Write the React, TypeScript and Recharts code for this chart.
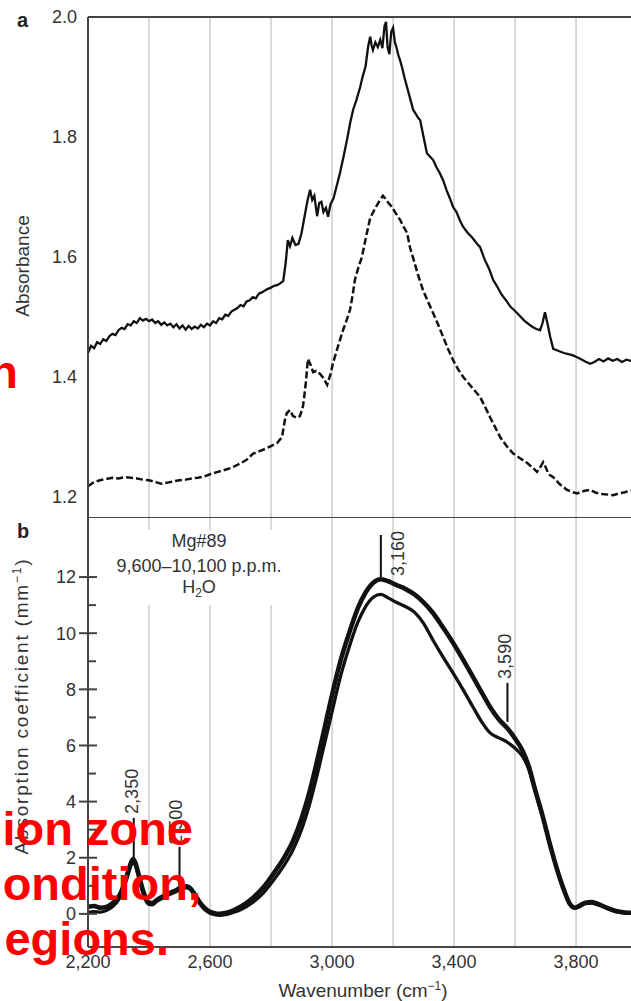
import { LineChart, Line, XAxis, YAxis, ReferenceLine } from 'recharts'

// panel a, solid spectrum
const waveSolid = [
  2200, 2210, 2220, 2230, 2240, 2250, 2260, 2270, 2280, 2290, 2300, 2310, 2320, 2330, 2340, 2350, 2360, 2370, 2380, 2390,
  2400, 2410, 2420, 2430, 2440, 2450, 2460, 2470, 2480, 2490, 2500, 2510, 2520, 2530, 2540, 2550, 2560, 2570, 2580, 2590,
  2600, 2610, 2620, 2630, 2640, 2650, 2660, 2670, 2680, 2690, 2700, 2710, 2720, 2730, 2740, 2750, 2760, 2770, 2780, 2790,
  2800, 2810, 2820, 2830, 2840, 2848, 2855, 2862, 2870, 2880, 2890, 2900, 2910, 2920, 2928, 2935, 2942, 2951, 2958, 2965,
  2972, 2980, 2987, 2995, 3005, 3015, 3026, 3038, 3050, 3060, 3069, 3080, 3092, 3100, 3110, 3118, 3125, 3130, 3134, 3142,
  3150, 3158, 3165, 3172, 3177, 3182, 3188, 3194, 3200, 3206, 3212, 3218, 3223, 3230, 3238, 3246, 3255, 3266, 3275, 3282,
  3289, 3300, 3311, 3320, 3331, 3342, 3353, 3364, 3375, 3386, 3397, 3408, 3420, 3430, 3445, 3460, 3475, 3485, 3500, 3515,
  3528, 3540, 3555, 3570, 3585, 3600, 3615, 3630, 3645, 3659, 3670, 3682, 3690, 3698, 3705, 3715, 3725, 3735, 3745, 3760,
  3775, 3790, 3803, 3815, 3830, 3846, 3860, 3875, 3890, 3905, 3920, 3935, 3950, 3965, 3980,
]
const absSolid = [
  1.44, 1.452, 1.448, 1.458, 1.455, 1.463, 1.46, 1.468, 1.472, 1.47, 1.478, 1.482, 1.48, 1.488, 1.486, 1.493, 1.49, 1.498, 1.494, 1.497,
  1.493, 1.496, 1.49, 1.493, 1.487, 1.491, 1.486, 1.489, 1.483, 1.488, 1.481, 1.486, 1.479, 1.485, 1.48, 1.484, 1.481, 1.487, 1.483, 1.489,
  1.486, 1.493, 1.49, 1.498, 1.496, 1.504, 1.502, 1.509, 1.512, 1.515, 1.52, 1.518, 1.526, 1.528, 1.533, 1.531, 1.539, 1.541, 1.544, 1.547,
  1.549, 1.552, 1.553, 1.556, 1.56, 1.59, 1.628, 1.618, 1.632, 1.62, 1.622, 1.64, 1.668, 1.695, 1.712, 1.695, 1.702, 1.668, 1.69, 1.692,
  1.675, 1.682, 1.667, 1.688, 1.698, 1.718, 1.74, 1.768, 1.798, 1.825, 1.845, 1.862, 1.883, 1.9, 1.918, 1.95, 1.967, 1.952, 1.945, 1.958,
  1.95, 1.962, 1.948, 1.985, 1.992, 1.95, 1.938, 1.975, 1.982, 1.958, 1.948, 1.935, 1.928, 1.915, 1.898, 1.883, 1.866, 1.845, 1.838, 1.832,
  1.828, 1.8, 1.773, 1.768, 1.762, 1.75, 1.74, 1.728, 1.712, 1.698, 1.683, 1.675, 1.66, 1.65, 1.64, 1.632, 1.622, 1.617, 1.596, 1.58,
  1.562, 1.552, 1.538, 1.528, 1.517, 1.51, 1.502, 1.494, 1.488, 1.483, 1.48, 1.478, 1.49, 1.508, 1.492, 1.467, 1.447, 1.445, 1.443, 1.44,
  1.438, 1.436, 1.433, 1.43, 1.426, 1.422, 1.425, 1.43, 1.426, 1.431, 1.427, 1.43, 1.425, 1.429, 1.427,
]

// panel a, dashed spectrum
const waveDashed = [
  2200, 2220, 2240, 2260, 2280, 2300, 2320, 2340, 2360, 2380, 2400, 2420, 2440, 2460, 2480, 2500, 2520, 2540, 2560, 2580,
  2600, 2620, 2640, 2660, 2680, 2700, 2720, 2740, 2760, 2780, 2800, 2820, 2836, 2846, 2852, 2862, 2872, 2885, 2895, 2905,
  2913, 2921, 2930, 2938, 2948, 2961, 2972, 2984, 2995, 3003, 3020, 3036, 3048, 3059, 3067, 3075, 3086, 3098, 3112, 3125,
  3140, 3157, 3167, 3174, 3185, 3197, 3210, 3223, 3235, 3246, 3256, 3266, 3282, 3298, 3315, 3331, 3348, 3364, 3380, 3397,
  3413, 3430, 3450, 3468, 3485, 3500, 3518, 3535, 3551, 3572, 3593, 3615, 3639, 3655, 3672, 3683, 3692, 3700, 3710, 3725,
  3745, 3770, 3790, 3803, 3825, 3846, 3865, 3885, 3905, 3921, 3940, 3960, 3980,
]
const absDashed = [
  1.218, 1.225, 1.228, 1.23, 1.232, 1.231, 1.233, 1.232, 1.231, 1.229, 1.228, 1.225, 1.222, 1.224, 1.226, 1.228, 1.229, 1.231, 1.232, 1.234,
  1.238, 1.241, 1.244, 1.247, 1.251, 1.256, 1.262, 1.272, 1.276, 1.28, 1.285, 1.29, 1.3, 1.33, 1.34, 1.345, 1.335, 1.332, 1.335, 1.352,
  1.385, 1.43, 1.42, 1.408, 1.41, 1.405, 1.398, 1.387, 1.405, 1.423, 1.452, 1.478, 1.495, 1.512, 1.535, 1.562, 1.582, 1.6, 1.635, 1.665,
  1.68, 1.695, 1.702, 1.698, 1.69, 1.683, 1.672, 1.662, 1.65, 1.64, 1.615, 1.598, 1.57, 1.545, 1.525, 1.507, 1.487, 1.467, 1.447, 1.428,
  1.413, 1.4, 1.388, 1.377, 1.367, 1.352, 1.333, 1.316, 1.3, 1.285, 1.273, 1.265, 1.257, 1.25, 1.242, 1.25, 1.258, 1.25, 1.238, 1.233,
  1.222, 1.212, 1.208, 1.206, 1.21, 1.212, 1.207, 1.205, 1.204, 1.203, 1.206, 1.208, 1.211,
]

// panel b, absorption coefficient
const waveB = [
  2200, 2220, 2240, 2260, 2280, 2300, 2315, 2330, 2340, 2348, 2356, 2365, 2380, 2397, 2410, 2426, 2445, 2469, 2490, 2508,
  2522, 2534, 2550, 2567, 2585, 2600, 2615, 2630, 2650, 2675, 2700, 2741, 2775, 2807, 2840, 2872, 2900, 2925, 2950, 2975,
  3000, 3030, 3059, 3085, 3110, 3135, 3160, 3185, 3210, 3240, 3270, 3300, 3331, 3364, 3397, 3430, 3462, 3490, 3518, 3545,
  3574, 3600, 3625, 3645, 3665, 3690, 3715, 3740, 3762, 3780, 3795, 3810, 3830, 3850, 3870, 3900, 3930, 3960, 3980,
]
const coefUpper = [
  0.25, 0.28, 0.22, 0.25, 0.38, 0.6, 0.95, 1.45, 1.8, 1.95, 1.8, 1.45, 0.85, 0.42, 0.38, 0.5, 0.62, 0.75, 0.85, 0.96,
  0.98, 0.93, 0.7, 0.4, 0.18, 0.07, 0.02, 0.0, 0.03, 0.12, 0.25, 0.58, 0.95, 1.42, 1.95, 2.6, 3.4, 4.3, 5.4, 6.6,
  7.8, 9.1, 10.1, 10.9, 11.45, 11.8, 11.92, 11.85, 11.72, 11.58, 11.38, 11.1, 10.72, 10.2, 9.65, 9.05, 8.44, 7.9, 7.37, 6.95,
  6.62, 6.25, 5.8, 5.25, 4.45, 3.5, 2.45, 1.5, 0.8, 0.35, 0.22, 0.28, 0.4, 0.42, 0.36, 0.22, 0.1, 0.05, 0.04,
]
const coefLower = [
  0.05, 0.08, 0.06, 0.12, 0.25, 0.5, 0.85, 1.35, 1.7, 1.85, 1.7, 1.35, 0.75, 0.35, 0.32, 0.45, 0.57, 0.7, 0.8, 0.9,
  0.93, 0.88, 0.65, 0.35, 0.13, 0.02, -0.03, -0.05, -0.03, 0.05, 0.15, 0.42, 0.75, 1.18, 1.68, 2.28, 3.0, 3.85, 4.9, 6.05,
  7.2, 8.55, 9.6, 10.4, 10.95, 11.28, 11.38, 11.25, 11.1, 10.95, 10.75, 10.35, 9.75, 9.15, 8.58, 7.98, 7.37, 6.85, 6.45, 6.28,
  6.12, 5.9, 5.6, 5.15, 4.4, 3.48, 2.42, 1.48, 0.78, 0.32, 0.2, 0.25, 0.37, 0.38, 0.33, 0.2, 0.08, 0.03, 0.02,
]

const gridWaves = [2400, 2600, 2800, 3000, 3200, 3400, 3600, 3800]
const xTicks = [2200, 2600, 3000, 3400, 3800]
const xTickLabels = ['2,200', '2,600', '3,000', '3,400', '3,800']
const absTicks = [1.2, 1.4, 1.6, 1.8, 2.0]
const coefTicks = [0, 1, 2, 3, 4, 5, 6, 7, 8, 9, 10, 11, 12]

const markerWaves = [2350, 2500, 3160, 3575]
const markerLabels = ['2,350', '2,500', '3,160', '3,590']
const markerFrom = [1.92, 0.96, 12.0, 6.84]
const markerTo = [3.42, 2.39, 13.5, 8.23]

const X_DOMAIN = [2200, 3980]
const ABS_DOMAIN = [1.1667, 2.0]
const COEF_DOMAIN = [-1.18, 14.14]

const FONT = '"Liberation Sans", Arial, Helvetica, sans-serif'
const INK = '#333'
const AXIS = '#444'
const GRID = '#cdcdcd'

// where each marker label sits relative to its line
const markerPlacement = [
  { dx: 4.5, fromTop: true, gap: 4 },
  { dx: 2.5, fromTop: true, gap: 2 },
  { dx: 23, fromTop: false, gap: 1 },
  { dx: 3.5, fromTop: true, gap: 4 },
]

const solidData = waveSolid.map((w, i) => ({ w, solid: absSolid[i] }))
const dashedData = waveDashed.map((w, i) => ({ w, dashed: absDashed[i] }))
const bData = waveB.map((w, i) => ({ w, upper: coefUpper[i], lower: coefLower[i] }))

function CoefTick(props: any) {
  const { x, y, payload } = props
  const v = payload.value
  const axisX = x + 12
  if (v % 2 === 0) {
    return (
      <g>
        <line x1={axisX - 9} x2={axisX + 9} y1={y} y2={y} stroke={AXIS} strokeWidth={2} />
        <text x={x} y={y} dy="0.355em" textAnchor="end" fontSize={18} fill={INK}>{v}</text>
      </g>
    )
  }
  return <line x1={axisX} x2={axisX + 8} y1={y} y2={y} stroke={AXIS} strokeWidth={2} />
}

function markerLabel(text: string, i: number) {
  const p = markerPlacement[i]
  return (props: any) => {
    const vb = props.viewBox
    const x = vb.x + p.dx
    const y = p.fromTop ? vb.y - p.gap : vb.y + vb.height - p.gap
    return (
      <text x={x} y={y} transform={`rotate(-90 ${x} ${y})`} textAnchor="start" fontSize={18} fill={INK}>
        {text}
      </text>
    )
  }
}

const redText = { fontSize: 47, fontWeight: 700, fill: '#ff0000' }

export default function App() {
  return (
    <div style={{ position: 'absolute', left: 0, top: 0, width: 631, height: 1001, overflow: 'hidden', background: '#fff', fontFamily: FONT }}>
      <div style={{ position: 'absolute', left: 0, top: 0 }}>
        <LineChart width={631} height={517} margin={{ top: 17, right: 0, bottom: 0, left: 0 }}>
          <XAxis type="number" dataKey="w" domain={X_DOMAIN} allowDataOverflow hide />
          <YAxis
            type="number"
            domain={ABS_DOMAIN}
            allowDataOverflow
            ticks={absTicks}
            interval={0}
            tickFormatter={(v: number) => v.toFixed(1)}
            width={88}
            tickLine={false}
            tickSize={11}
            tickMargin={0}
            axisLine={{ stroke: AXIS, strokeWidth: 2 }}
            tick={{ fontSize: 18, fill: INK }}
          />
          {gridWaves.map(w => <ReferenceLine key={w} x={w} stroke={GRID} strokeWidth={1.5} />)}
          <ReferenceLine y={ABS_DOMAIN[1]} stroke={AXIS} strokeWidth={2} />
          <Line data={dashedData} dataKey="dashed" type="linear" stroke="#111" strokeWidth={2.5} strokeDasharray="7 3" dot={false} isAnimationActive={false} />
          <Line data={solidData} dataKey="solid" type="linear" stroke="#111" strokeWidth={2.3} dot={false} isAnimationActive={false} />
        </LineChart>
      </div>
      <div style={{ position: 'absolute', left: 0, top: 517 }}>
        <LineChart width={631} height={484} data={bData} margin={{ top: 0, right: 0, bottom: 0, left: 0 }}>
          <XAxis
            type="number"
            dataKey="w"
            domain={X_DOMAIN}
            allowDataOverflow
            ticks={xTicks}
            interval={0}
            tickFormatter={(v: number) => xTickLabels[xTicks.indexOf(v)]}
            height={54}
            tickLine={false}
            axisLine={{ stroke: AXIS, strokeWidth: 2 }}
            tick={{ fontSize: 18, fill: INK }}
          />
          <YAxis
            type="number"
            domain={COEF_DOMAIN}
            allowDataOverflow
            ticks={coefTicks}
            interval={0}
            width={88}
            tickLine={false}
            tickSize={12}
            tickMargin={0}
            axisLine={{ stroke: AXIS, strokeWidth: 2 }}
            tick={CoefTick}
          />
          {gridWaves.map(w => <ReferenceLine key={w} x={w} stroke={GRID} strokeWidth={1.5} />)}
          <ReferenceLine y={COEF_DOMAIN[1]} stroke={AXIS} strokeWidth={2} />
          <Line dataKey="lower" type="monotone" stroke="#111" strokeWidth={3.3} dot={false} isAnimationActive={false} />
          <Line dataKey="upper" type="monotone" stroke="#111" strokeWidth={4.6} dot={false} isAnimationActive={false} />
          {markerWaves.map((w, i) => (
            <ReferenceLine
              key={'m' + w}
              segment={[{ x: w, y: markerFrom[i] }, { x: w, y: markerTo[i] }]}
              stroke="#111"
              strokeWidth={2}
              label={markerLabel(markerLabels[i], i)}
            />
          ))}
        </LineChart>
      </div>
      <svg width={631} height={1001} style={{ position: 'absolute', left: 0, top: 0, pointerEvents: 'none' }} fontFamily={FONT}>
        <text x={17} y={27} fontSize={20} fontWeight={700} fill="#222">a</text>
        <text x={17} y={538} fontSize={20} fontWeight={700} fill="#222">b</text>
        <text x={29} y={266} transform="rotate(-90 29 266)" textAnchor="middle" fontSize={19} fill={INK}>Absorbance</text>
        <text x={28} y={706} transform="rotate(-90 28 706)" textAnchor="middle" fontSize={19} letterSpacing={1.8} fill={INK}>
          Absorption coefficient (mm<tspan dy={-7} fontSize={12}>−1</tspan><tspan dy={7}>)</tspan>
        </text>
        <text x={363} y={997} textAnchor="middle" fontSize={19} fill={INK}>
          Wavenumber  (cm<tspan dy={-7} fontSize={12}>−1</tspan><tspan dy={7}>)</tspan>
        </text>
        <rect x={105} y={530} width={190} height={75} fill="#fff" />
        <g textAnchor="middle" fontSize={18} fill={INK}>
          <text x={199} y={547}>Mg#89</text>
          <text x={199} y={572}>9,600–10,100 p.p.m.</text>
          <text x={199} y={593}>H<tspan dy={4} fontSize={12}>2</tspan><tspan dy={-4}>O</tspan></text>
        </g>
        <g textAnchor="end" {...redText}>
          <text x={18} y={388}>n</text>
          <text x={193} y={845}>ion zone</text>
          <text x={201} y={900}>ondition,</text>
          <text x={169} y={955}>egions.</text>
        </g>
      </svg>
    </div>
  )
}
